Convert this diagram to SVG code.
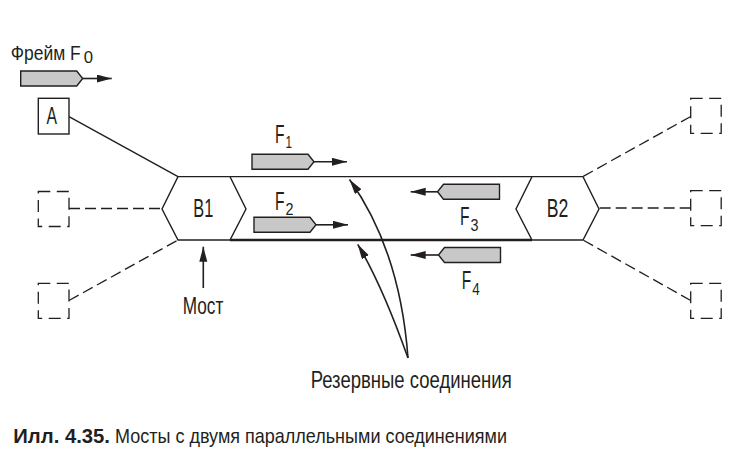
<svg xmlns="http://www.w3.org/2000/svg" width="736" height="469" viewBox="0 0 736 469">
  <style>
    .ln { fill: none; stroke: #231f20; stroke-width: 1.4; }
    .thick { fill: none; stroke: #231f20; stroke-width: 2.4; }
    .dash { fill: none; stroke: #231f20; stroke-width: 1.3; stroke-dasharray: 11 5; }
    .dbox { fill: none; stroke: #231f20; stroke-width: 1.3; stroke-dasharray: 12 6.5; }
    .hex { fill: #ffffff; stroke: #231f20; stroke-width: 1.4; }
    .pkt { fill: #c8c8c8; stroke: #231f20; stroke-width: 1.4; stroke-linejoin: miter; }
    .arr { fill: none; stroke: #231f20; stroke-width: 1.6; marker-end: url(#head); }
    text { font-family: "Liberation Sans Narrow", "Liberation Sans", Arial, sans-serif; fill: #231f20; }
    .lbl { font-size: 23px; }
    .big { font-size: 25px; }
    .sub { font-size: 17px; }
    .cap { font-size: 21px; }
    .capb { font-size: 21px; font-weight: bold; }
  </style>
  <defs>
    <marker id="head" markerUnits="userSpaceOnUse" markerWidth="16" markerHeight="9" refX="15" refY="4" orient="auto">
      <path d="M0,0 L15,4 L0,8 z" fill="#231f20"/>
    </marker>
    <!-- frame packet: body with pointed front, pointing right -->
    <path id="pktR" d="M0,0 H56 L62,7.5 L56,15 H0 z"/>
  </defs>

  <!-- connectors -->
  <g id="connectors">
    <!-- station A to bridge B1 -->
    <path class="ln" d="M69,116.7 L178,176.6"/>
    <!-- optional stations (dashed) -->
    <path class="dash" d="M69,208.5 H162"/>
    <path class="dash" d="M69,300.5 L178,240"/>
    <path class="dash" d="M690.7,116.5 L583,176.5"/>
    <path class="dash" d="M690.7,208 H599"/>
    <path class="dash" d="M690.7,300.5 L583,240"/>
    <!-- parallel links between the bridges -->
    <path class="ln" d="M230,176.6 H532"/>
    <path class="thick" d="M230,240 H532"/>
    <!-- pointer arrows -->
    <path class="arr" d="M203.3,288 V246.7"/>
    <path class="arr" d="M408,358 Q400,250 349.5,179.5"/>
    <path class="arr" d="M408,358 Q382,285 357.7,244.3"/>
  </g>

  <!-- station A -->
  <g id="station-a">
    <rect class="ln" x="38.3" y="98.3" width="30.7" height="35.7"/>
    <text class="lbl" x="46.5" y="124.3" textLength="10.5" lengthAdjust="spacingAndGlyphs">A</text>
  </g>

  <!-- optional stations -->
  <g id="station-l1"><rect class="dbox" x="38.3" y="191.5" width="30.7" height="35"/></g>
  <g id="station-l2"><rect class="dbox" x="38.3" y="283.3" width="30.7" height="35"/></g>
  <g id="station-r1"><rect class="dbox" x="690.7" y="98.3" width="30.5" height="35"/></g>
  <g id="station-r2"><rect class="dbox" x="690.7" y="190.7" width="30.5" height="35"/></g>
  <g id="station-r3"><rect class="dbox" x="690.7" y="283.3" width="30.5" height="35"/></g>

  <!-- bridges -->
  <g id="bridge-b1">
    <polygon class="hex" points="178,176.6 230,176.6 246,209 230,240 178,240 162,209"/>
    <text class="big" x="193.3" y="217" textLength="20" lengthAdjust="spacingAndGlyphs">B1</text>
  </g>
  <g id="bridge-b2">
    <polygon class="hex" points="532,176.6 583,176.6 599,209 583,240 532,240 516,209"/>
    <text class="big" x="546.7" y="217" textLength="21.6" lengthAdjust="spacingAndGlyphs">B2</text>
  </g>

  <!-- frame F0 -->
  <g id="frame-f0">
    <text x="10.7" y="59.5" font-size="21"><tspan textLength="70" lengthAdjust="spacingAndGlyphs">Фрейм F</tspan><tspan class="sub" dx="3" dy="3" textLength="9.3" lengthAdjust="spacingAndGlyphs">0</tspan></text>
    <use href="#pktR" class="pkt" transform="translate(20.7,71)"/>
    <path class="arr" d="M82.7,78.5 H111.7"/>
  </g>

  <!-- frame F1 -->
  <g id="frame-f1">
    <text class="big" x="275" y="143"><tspan textLength="9.5" lengthAdjust="spacingAndGlyphs">F</tspan><tspan class="sub" dx="1" dy="4.5" textLength="6.5" lengthAdjust="spacingAndGlyphs">1</tspan></text>
    <use href="#pktR" class="pkt" transform="translate(252,154.3)"/>
    <path class="arr" d="M314,161.8 H347"/>
  </g>

  <!-- frame F2 -->
  <g id="frame-f2">
    <text class="big" x="275" y="210"><tspan textLength="9.5" lengthAdjust="spacingAndGlyphs">F</tspan><tspan class="sub" dx="1" dy="4.5" textLength="8" lengthAdjust="spacingAndGlyphs">2</tspan></text>
    <use href="#pktR" class="pkt" transform="translate(254,217.3)"/>
    <path class="arr" d="M316,224.8 H348"/>
  </g>

  <!-- frame F3 (travelling left) -->
  <g id="frame-f3">
    <use href="#pktR" class="pkt" transform="translate(499.5,199.3) rotate(180)"/>
    <path class="arr" d="M437.5,191.8 H410.7"/>
    <text class="big" x="460" y="225"><tspan textLength="9.5" lengthAdjust="spacingAndGlyphs">F</tspan><tspan class="sub" dx="1" dy="6" textLength="8" lengthAdjust="spacingAndGlyphs">3</tspan></text>
  </g>

  <!-- frame F4 (travelling left) -->
  <g id="frame-f4">
    <use href="#pktR" class="pkt" transform="translate(500.5,262.5) rotate(180)"/>
    <path class="arr" d="M438.5,255 H410.7"/>
    <text class="big" x="461.7" y="289.3"><tspan textLength="9.5" lengthAdjust="spacingAndGlyphs">F</tspan><tspan class="sub" dx="1" dy="6" textLength="7.5" lengthAdjust="spacingAndGlyphs">4</tspan></text>
  </g>

  <!-- annotations -->
  <g id="label-bridge">
    <text class="lbl" x="182.7" y="314" textLength="40.6" lengthAdjust="spacingAndGlyphs">Мост</text>
  </g>
  <g id="label-redundant">
    <text class="lbl" x="310.7" y="388.3" font-size="24" textLength="201" lengthAdjust="spacingAndGlyphs">Резервные соединения</text>
  </g>

  <!-- caption -->
  <g id="caption">
    <text class="capb" x="13.3" y="443.3" textLength="96.7" lengthAdjust="spacingAndGlyphs">Илл. 4.35.</text>
    <text class="cap" x="115" y="443.3" textLength="392" lengthAdjust="spacingAndGlyphs">Мосты с двумя параллельными соединениями</text>
  </g>
</svg>
